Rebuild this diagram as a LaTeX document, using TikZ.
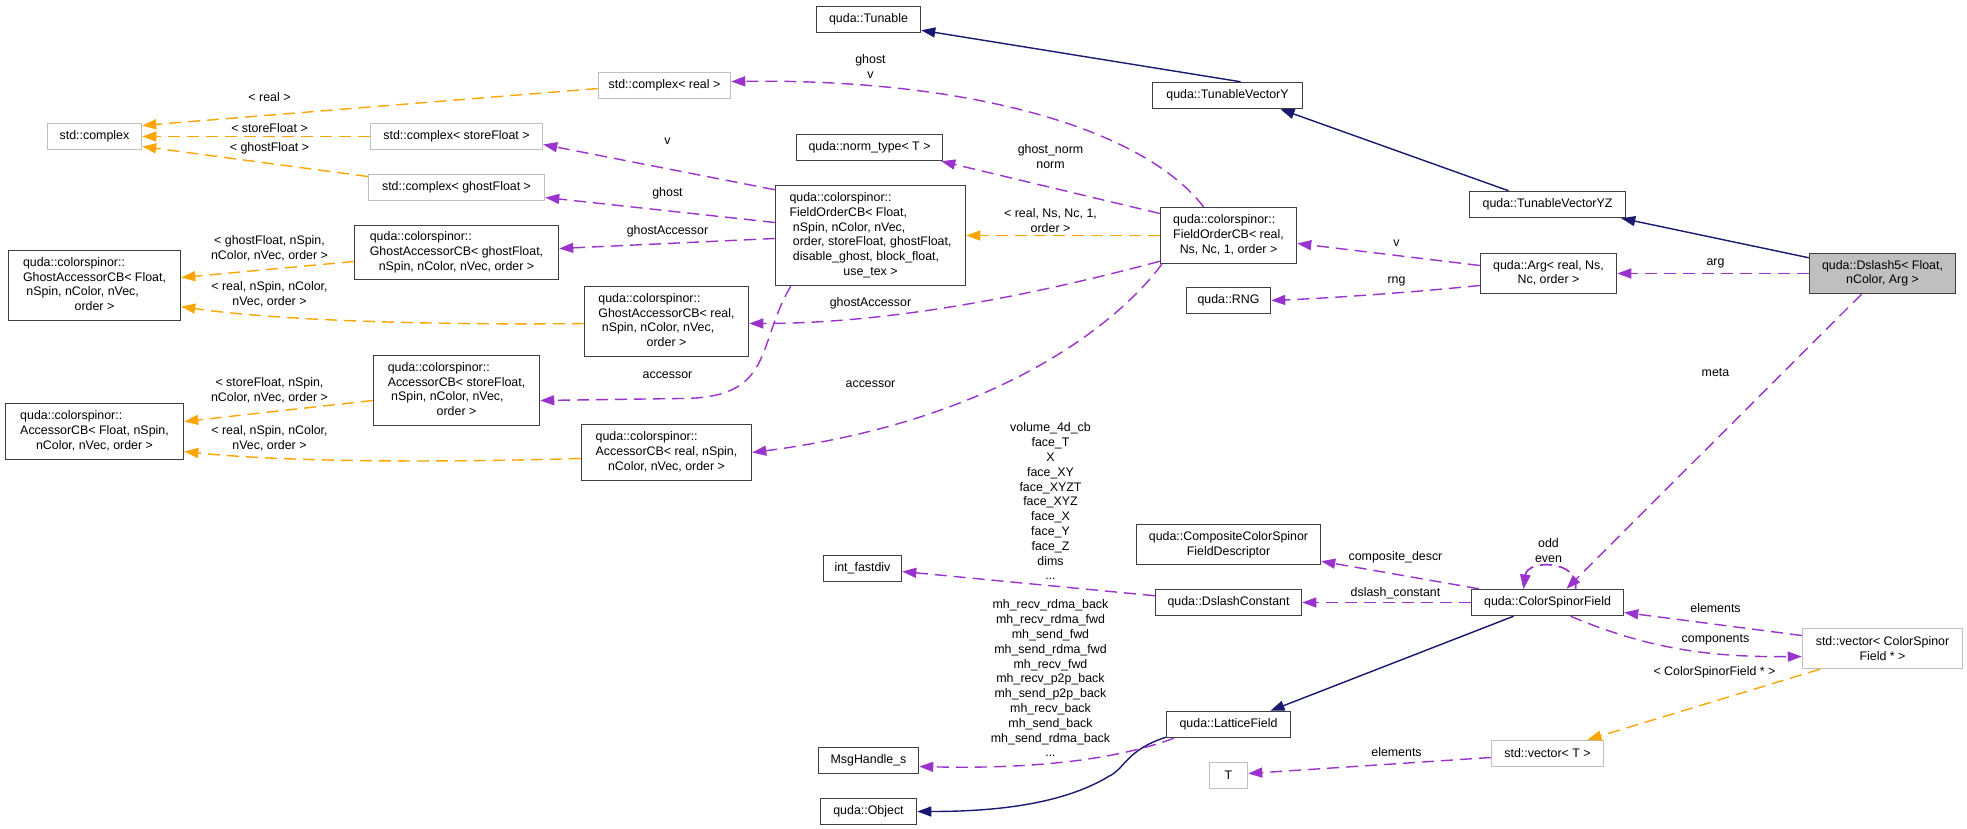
\documentclass[tikz,border=0pt]{standalone}
\usepackage{fontspec}
\setmainfont{Liberation Sans}
\usetikzlibrary{arrows.meta,calc}
\definecolor{pur}{HTML}{9A32CD}
\definecolor{org}{HTML}{FFA500}
\definecolor{nav}{HTML}{191970}
\definecolor{gbd}{HTML}{BFBFBF}
\definecolor{bdr}{HTML}{404040}
\newcommand{\lns}[2]{\begin{tabular}{@{}l@{}}#1\\\multicolumn{1}{@{}c@{}}{#2}\end{tabular}}
\tikzset{
  cls/.style={draw=bdr, line width=1.5pt, inner sep=0pt, align=center, fill=white},
  ext/.style={draw=gbd, line width=1.5pt, inner sep=0pt, align=center, fill=white},
  lab/.style={inner sep=0pt, align=center},
  tip/.style={-{Triangle[length=14pt,width=10pt]}},
  pd/.style={draw=pur, line width=1.4pt, dash pattern=on 12pt off 7pt, tip},
  od/.style={draw=org, line width=1.4pt, dash pattern=on 12pt off 7pt, tip},
  nv/.style={draw=nav, line width=1.4pt, tip},
}
\begin{document}
\begin{tikzpicture}[x=1pt,y=-1pt,font=\fontsize{12.4}{14.8}\selectfont]
\useasboundingbox[fill=white] (0,0) rectangle (1967,829);
\begin{scope}[shift={(0.5,0.5)}]
% nodes
\node[cls, minimum width=104pt, minimum height=26pt] (tun) at (868,19) {quda::Tunable};
\node[cls, minimum width=150pt, minimum height=26pt] (tvy) at (1227,95) {quda::TunableVectorY};
\node[cls, minimum width=156pt, minimum height=26pt] (tvyz) at (1547,204) {quda::TunableVectorYZ};
\node[cls, fill=gbd, minimum width=146pt, minimum height=40pt] (ds5) at (1882,273) {\lns{quda::Dslash5{\textless} Float,}{nColor, Arg {\textgreater}}};
\node[cls, minimum width=136pt, minimum height=40pt] (arg) at (1548,273) {\lns{quda::Arg{\textless} real, Ns,}{Nc, order {\textgreater}}};
\node[cls, minimum width=84pt, minimum height=26pt] (rng) at (1228,300) {quda::RNG};
\node[cls, minimum width=136pt, minimum height=56pt] (focbr) at (1228,235) {\lns{quda::colorspinor::\\FieldOrderCB{\textless} real,}{Ns, Nc, 1, order {\textgreater}}};
\node[cls, minimum width=190pt, minimum height=100pt] (focbf) at (870,235) {\lns{quda::colorspinor::\\FieldOrderCB{\textless} Float,\\\ nSpin, nColor, nVec,\\\ order, storeFloat, ghostFloat,\\\ disable\_ghost, block\_float,}{use\_tex {\textgreater}}};
\node[cls, minimum width=146pt, minimum height=26pt] (norm) at (869,147) {quda::norm\_type{\textless} T {\textgreater}};
\node[ext, minimum width=132pt, minimum height=26pt] (cplxr) at (664,85) {std::complex{\textless} real {\textgreater}};
\node[ext, minimum width=94pt, minimum height=26pt] (cplx) at (94,136) {std::complex};
\node[ext, minimum width=172pt, minimum height=26pt] (cplxs) at (456,136) {std::complex{\textless} storeFloat {\textgreater}};
\node[ext, minimum width=176pt, minimum height=26pt] (cplxg) at (456,187) {std::complex{\textless} ghostFloat {\textgreater}};
\node[cls, minimum width=204pt, minimum height=54pt] (gacg) at (456,252) {\lns{quda::colorspinor::\\GhostAccessorCB{\textless} ghostFloat,}{nSpin, nColor, nVec, order {\textgreater}}};
\node[cls, minimum width=172pt, minimum height=70pt] (gacf) at (94,285) {\lns{quda::colorspinor::\\GhostAccessorCB{\textless} Float,\\\ nSpin, nColor, nVec,}{order {\textgreater}}};
\node[cls, minimum width=164pt, minimum height=70pt] (gacr) at (666,321) {\lns{quda::colorspinor::\\GhostAccessorCB{\textless} real,\\\ nSpin, nColor, nVec,}{order {\textgreater}}};
\node[cls, minimum width=166pt, minimum height=70pt] (acs) at (456,390) {\lns{quda::colorspinor::\\AccessorCB{\textless} storeFloat,\\\ nSpin, nColor, nVec,}{order {\textgreater}}};
\node[cls, minimum width=178pt, minimum height=56pt] (acf) at (94,431) {\lns{quda::colorspinor::\\AccessorCB{\textless} Float, nSpin,}{nColor, nVec, order {\textgreater}}};
\node[cls, minimum width=170pt, minimum height=56pt] (acr) at (666,452) {\lns{quda::colorspinor::\\AccessorCB{\textless} real, nSpin,}{nColor, nVec, order {\textgreater}}};
\node[cls, minimum width=78pt, minimum height=26pt] (ifd) at (862,568) {int\_fastdiv};
\node[cls, minimum width=184pt, minimum height=40pt] (ccsfd) at (1228,544) {quda::CompositeColorSpinor\\FieldDescriptor};
\node[cls, minimum width=146pt, minimum height=26pt] (dslc) at (1228,602) {quda::DslashConstant};
\node[cls, minimum width=152pt, minimum height=26pt] (csf) at (1547,602) {quda::ColorSpinorField};
\node[cls, minimum width=124pt, minimum height=26pt] (lat) at (1228,724) {quda::LatticeField};
\node[cls, minimum width=100pt, minimum height=26pt] (msg) at (868,760) {MsgHandle\_s};
\node[cls, minimum width=96pt, minimum height=26pt] (obj) at (868,811) {quda::Object};
\node[ext, minimum width=38pt, minimum height=26pt] (tt) at (1228,775) {T};
\node[ext, minimum width=160pt, minimum height=40pt] (vecc) at (1882,648) {std::vector{\textless} ColorSpinor\\Field * {\textgreater}};
\node[ext, minimum width=112pt, minimum height=26pt] (vect) at (1547,753) {std::vector{\textless} T {\textgreater}};
% inheritance
\draw[nv] ($(tvy.north)+(13,0)$) -- ($(tun.south east)+(0,-3)$);
\draw[nv] ($(tvyz.north)+(-39,0)$) -- ($(tvy.south)+(53,0)$);
\draw[nv] ($(ds5.north west)+(0,5)$) -- ($(tvyz.south east)+(-5,0)$);
\draw[nv] ($(csf.south)+(-34,0)$) -- ($(lat.north)+(42,0)$);
\draw[nv] ($(lat.south west)+(0,-1)$) .. controls (1125,750) and (1125,768) .. (1108,776) .. controls (1060,805) and (990,811) .. (obj.east);
% usage
\draw[pd] (ds5.west) -- (arg.east);
\draw[pd] ($(ds5.south)+(-21,0)$) -- ($(csf.north)+(19,0)$);
\draw[pd] ($(csf.north)+(28,0)$) .. controls (1580,560) and (1527,558) .. ($(csf.north)+(-24,0)$);
\draw[pd] ($(csf.north)+(28,0)$) .. controls (1580,560) and (1527,558) .. ($(csf.north)+(-24,0)$);
\draw[pd] ($(arg.west)+(0,-8)$) -- ($(focbr.east)+(0,8)$);
\draw[pd] ($(arg.west)+(0,12)$) .. controls (1400,293) and (1320,298) .. (rng.east);
\draw[od] (focbr.west) -- (focbf.east);
\draw[pd] ($(focbr.west)+(0,-22)$) -- ($(norm.south east)+(-2,0)$);
\draw[pd] ($(focbr.north)+(-25,0)$) .. controls (1140,125) and (960,78) .. ($(cplxr.east)+(0,-4)$);
\draw[pd] ($(focbr.south west)+(0,-3)$) .. controls (1050,290) and (900,323) .. ($(gacr.east)+(0,2)$);
\draw[pd] ($(focbr.south west)+(2,0)$) .. controls (1120,320) and (1000,420) .. (acr.east);
\draw[pd] ($(focbf.north west)+(0,5)$) -- ($(cplxs.east)+(0,8)$);
\draw[pd] ($(focbf.west)+(0,-13)$) -- ($(cplxg.east)+(0,10)$);
\draw[pd] ($(focbf.west)+(0,3)$) -- ($(gacg.east)+(0,-4)$);
\draw[pd] ($(focbf.south west)+(16,0)$) .. controls (755,345) and (775,398) .. (680,398) -- ($(acs.east)+(0,10)$);
\draw[od] ($(cplxr.west)+(0,3)$) -- ($(cplx.east)+(0,-11)$);
\draw[od] (cplxs.west) -- (cplx.east);
\draw[od] ($(cplxg.west)+(0,-11)$) -- ($(cplx.east)+(0,10)$);
\draw[od] ($(gacg.west)+(0,9)$) -- ($(gacf.east)+(0,-8)$);
\draw[od] ($(gacr.west)+(0,2)$) .. controls (400,325) and (260,318) .. ($(gacf.east)+(0,21)$);
\draw[od] ($(acs.west)+(0,10)$) -- ($(acf.east)+(0,-10)$);
\draw[od] ($(acr.west)+(0,6)$) .. controls (400,463) and (270,460) .. ($(acf.east)+(0,20)$);
\draw[pd] ($(csf.north west)+(8,0)$) -- ($(ccsfd.south east)+(0,-4)$);
\draw[pd] (csf.west) -- (dslc.east);
\draw[pd] ($(dslc.north west)+(0,7)$) -- ($(ifd.east)+(0,3)$);
\draw[pd] ($(lat.south west)+(8,0)$) .. controls (1100,765) and (1000,768) .. ($(msg.east)+(0,6)$);
\draw[pd] ($(csf.south)+(23,0)$) .. controls (1640,645) and (1700,657) .. ($(vecc.west)+(0,8)$);
\draw[pd] ($(vecc.west)+(0,-13)$) -- ($(csf.east)+(0,10)$);
\draw[od] ($(vecc.south west)+(18,0)$) -- ($(vect.north)+(40,0)$);
\draw[pd] ($(vect.west)+(0,4)$) -- ($(tt.east)+(0,-2)$);
% labels
\node[lab] (l1) at (1715,263) {arg};
\node[lab] (l2) at (1715,372) {meta};
\node[lab] (l3) at (1548,550) {odd\\even};
\node[lab] (l4) at (1396,243) {v};
\node[lab] (l5) at (1396,281) {rng};
\node[lab] (l6) at (1050,220) {{\textless} real, Ns, Nc, 1,\\order {\textgreater}};
\node[lab] (l7) at (1050,156) {ghost\_norm\\norm};
\node[lab] (l8) at (870,66) {ghost\\v};
\node[lab] (l9) at (870,303) {ghostAccessor};
\node[lab] (l10) at (870,384) {accessor};
\node[lab] (l11) at (667,141) {v};
\node[lab] (l12) at (667,193) {ghost};
\node[lab] (l13) at (667,231) {ghostAccessor};
\node[lab] (l14) at (667,375) {accessor};
\node[lab] (l15) at (269,97) {{\textless} real {\textgreater}};
\node[lab] (l16) at (269,128) {{\textless} storeFloat {\textgreater}};
\node[lab] (l17) at (269,148) {{\textless} ghostFloat {\textgreater}};
\node[lab] (l18) at (269,248) {{\textless} ghostFloat, nSpin,\\nColor, nVec, order {\textgreater}};
\node[lab] (l19) at (269,294) {{\textless} real, nSpin, nColor,\\nVec, order {\textgreater}};
\node[lab] (l20) at (269,390) {{\textless} storeFloat, nSpin,\\nColor, nVec, order {\textgreater}};
\node[lab] (l21) at (269,438) {{\textless} real, nSpin, nColor,\\nVec, order {\textgreater}};
\node[lab] (l22) at (1395,557) {composite\_descr};
\node[lab] (l23) at (1395,593) {dslash\_constant};
\node[lab] (l24) at (1050,501) {volume\_4d\_cb\\face\_T\\X\\face\_XY\\face\_XYZT\\face\_XYZ\\face\_X\\face\_Y\\face\_Z\\dims\\...};
\node[lab] (l25) at (1050,678) {mh\_recv\_rdma\_back\\mh\_recv\_rdma\_fwd\\mh\_send\_fwd\\mh\_send\_rdma\_fwd\\mh\_recv\_fwd\\mh\_recv\_p2p\_back\\mh\_send\_p2p\_back\\mh\_recv\_back\\mh\_send\_back\\mh\_send\_rdma\_back\\...};
\node[lab] (l26) at (1715,608) {elements};
\node[lab] (l27) at (1715,639) {components};
\node[lab] (l28) at (1714,672) {{\textless} ColorSpinorField * {\textgreater}};
\node[lab] (l29) at (1396,752) {elements};
\end{scope}
\end{tikzpicture}
\end{document}
